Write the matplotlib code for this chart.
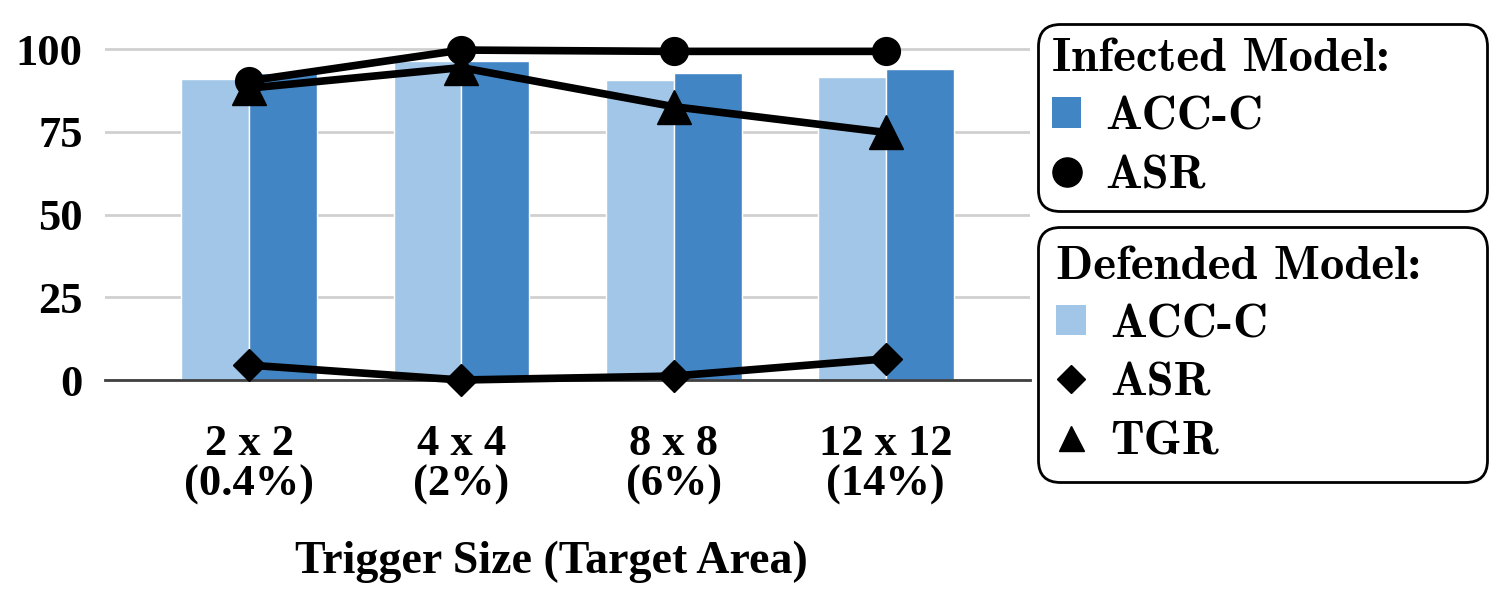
import matplotlib
matplotlib.use('Agg')
import matplotlib.pyplot as plt
from matplotlib.lines import Line2D
from matplotlib.patches import Patch
import numpy as np

sizes = ['2 x 2\n(0.4%)', '4 x 4\n(2%)', '8 x 8\n(6%)', '12 x 12\n(14%)']
def_acc = [91.0, 96.5, 90.5, 91.5]   # defended model ACC-C (light bars)
inf_acc = [92.9, 96.5, 92.9, 94.0]   # infected model ACC-C (dark bars)
inf_asr = [90.4, 99.7, 99.3, 99.3]   # infected ASR (circles)
def_tgr = [88.2, 94.4, 82.6, 74.8]   # defended TGR (triangles)
def_asr = [4.5, 0.0, 1.2, 6.4]       # defended ASR (diamonds)
yticks = [0, 25, 50, 75, 100]

light = '#a1c6e7'
dark = '#4285c5'
serif = ['Liberation Serif', 'DejaVu Serif']
cm = ['cmb10', 'DejaVu Serif']

fig = plt.figure(figsize=(15.02, 5.9), dpi=100)
ax = fig.add_axes([0.0699, 0.3559, 0.6159, 0.589])

x = np.arange(len(sizes))
w = 0.32
ax.bar(x - w / 2, def_acc, w, color=light, edgecolor='white', linewidth=1, zorder=2)
ax.bar(x + w / 2, inf_acc, w, color=dark, edgecolor='white', linewidth=1, zorder=2)

kw = dict(color='black', lw=5.5, clip_on=False, zorder=3)
ax.plot(x, inf_asr, marker='o', ms=20, **kw)
ax.plot(x, def_tgr, marker='^', ms=25, **kw)
ax.plot(x, def_asr, marker='D', ms=16, **kw)

ax.set_xlim(-0.68, 3.68)
ax.set_ylim(0, 105)
ax.set_yticks(yticks)
ax.set_xticks(x)
ax.set_xticklabels(sizes, linespacing=1.0)
ax.yaxis.grid(True, color='#d0d0d0', lw=2)
ax.set_axisbelow(True)
for s in ['top', 'right', 'left']:
    ax.spines[s].set_visible(False)
ax.spines['bottom'].set_color('#404040')
ax.spines['bottom'].set_linewidth(2)
ax.tick_params(axis='both', length=0, labelsize=32)
ax.tick_params(axis='y', pad=16)
ax.tick_params(axis='x', pad=32)
for lab in ax.get_xticklabels() + ax.get_yticklabels():
    lab.set_fontfamily(serif)
    lab.set_fontweight('bold')

ax.set_xlabel('Trigger Size (Target Area)', fontsize=33, fontweight='bold', family=serif)
ax.xaxis.set_label_coords(0.482, -0.463)

leg_kw = dict(loc='upper left', mode='expand', borderaxespad=0, frameon=True, fancybox=True,
              edgecolor='black', framealpha=1, prop={'family': cm, 'size': 35},
              title_fontproperties={'family': cm, 'size': 35}, alignment='left',
              handlelength=0.6, handleheight=0.6, handletextpad=0.5,
              labelspacing=0.34)

h_inf = [Patch(facecolor=dark),
         Line2D([], [], ls='none', marker='o', ms=21, color='black')]
h_def = [Patch(facecolor=light),
         Line2D([], [], ls='none', marker='D', ms=14.3, color='black'),
         Line2D([], [], ls='none', marker='^', ms=18, color='black')]

leg1 = fig.legend(h_inf, ['ACC-C', 'ASR'], title='Infected Model:', borderpad=0.29,
                  bbox_to_anchor=(0.691, 0.642, 0.299, 0.317), **leg_kw)
leg2 = fig.legend(h_def, ['ACC-C', 'ASR', 'TGR'], title='Defended Model:', borderpad=0.38,
                  bbox_to_anchor=(0.691, 0.181, 0.299, 0.434), **leg_kw)
for leg in (leg1, leg2):
    leg.get_frame().set_linewidth(2)
    leg.get_frame().set_boxstyle('round,pad=0,rounding_size=0.45')

fig.savefig('out.png', dpi=100)
